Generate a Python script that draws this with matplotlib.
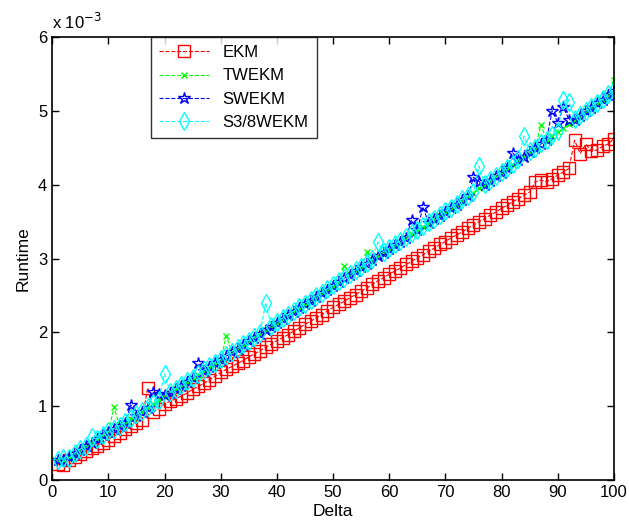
import matplotlib
matplotlib.use("Agg")
import matplotlib.pyplot as plt
from matplotlib.ticker import MultipleLocator

plt.rcParams['font.family'] = ['Liberation Sans', 'DejaVu Sans']

delta = list(range(1, 101))

ekm = [0.22,0.21,0.27,0.31,0.35,0.39,0.43,0.47,0.51,0.55,
       0.60,0.64,0.69,0.73,0.78,0.82,1.25,0.92,0.97,1.03,
       1.07,1.10,1.14,1.18,1.23,1.27,1.31,1.36,1.41,1.46,
       1.50,1.54,1.58,1.62,1.67,1.71,1.75,1.80,1.84,1.89,
       1.93,1.97,2.02,2.06,2.11,2.15,2.20,2.24,2.29,2.34,
       2.38,2.42,2.47,2.51,2.56,2.60,2.65,2.70,2.74,2.79,
       2.83,2.87,2.92,2.96,3.01,3.05,3.10,3.14,3.19,3.23,
       3.28,3.32,3.36,3.41,3.45,3.50,3.54,3.59,3.63,3.68,
       3.72,3.77,3.81,3.86,3.90,4.04,4.06,4.04,4.08,4.13,
       4.17,4.22,4.60,4.42,4.55,4.45,4.47,4.52,4.55,4.62]

twekm = [0.26,0.28,0.31,0.36,0.41,0.45,0.51,0.56,0.60,0.65,
         0.99,0.73,0.78,0.83,0.88,0.93,0.98,1.03,1.08,1.13,
         1.18,1.23,1.28,1.33,1.38,1.43,1.48,1.53,1.58,1.63,
         1.95,1.73,1.78,1.83,1.88,1.93,1.98,2.03,2.08,2.13,
         2.18,2.23,2.28,2.33,2.38,2.43,2.48,2.53,2.58,2.63,
         2.68,2.90,2.78,2.83,2.88,3.09,2.98,3.03,3.08,3.13,
         3.18,3.23,3.28,3.33,3.38,3.43,3.48,3.53,3.58,3.63,
         3.68,3.73,3.79,3.84,3.89,3.95,4.00,4.05,4.11,4.16,
         4.22,4.27,4.33,4.38,4.44,4.49,4.81,4.60,4.66,4.71,
         4.77,4.82,4.88,4.93,4.99,5.04,5.10,5.15,5.21,5.42]

swekm = [0.27,0.27,0.32,0.36,0.41,0.46,0.50,0.56,0.61,0.65,
         0.69,0.74,0.78,1.02,0.87,0.93,0.98,1.19,1.17,1.16,
         1.18,1.23,1.28,1.33,1.38,1.58,1.48,1.53,1.58,1.63,
         1.68,1.73,1.78,1.83,1.88,1.93,1.98,2.03,2.08,2.13,
         2.18,2.23,2.28,2.33,2.38,2.43,2.48,2.53,2.58,2.63,
         2.68,2.73,2.78,2.83,2.88,2.93,2.98,3.03,3.08,3.13,
         3.18,3.23,3.28,3.52,3.38,3.70,3.48,3.53,3.58,3.63,
         3.68,3.73,3.79,3.84,4.10,4.04,4.00,4.05,4.11,4.16,
         4.22,4.43,4.33,4.38,4.44,4.49,4.55,4.60,5.00,4.84,
         5.05,4.88,4.88,4.93,4.99,5.04,5.10,5.15,5.21,5.27]

s38wekm = [0.28,0.30,0.30,0.37,0.42,0.47,0.58,0.56,0.61,0.66,
           0.70,0.74,0.79,0.84,0.89,0.94,0.99,1.04,1.09,1.44,
           1.19,1.24,1.29,1.34,1.39,1.44,1.49,1.54,1.59,1.64,
           1.69,1.74,1.79,1.84,1.89,1.94,1.99,2.40,2.09,2.14,
           2.19,2.24,2.29,2.34,2.39,2.44,2.49,2.54,2.59,2.64,
           2.69,2.74,2.79,2.84,2.89,2.94,2.99,3.22,3.09,3.14,
           3.19,3.24,3.29,3.34,3.39,3.44,3.49,3.54,3.59,3.64,
           3.69,3.74,3.80,3.85,3.90,4.25,4.01,4.06,4.12,4.17,
           4.23,4.28,4.34,4.66,4.45,4.50,4.56,4.61,4.67,4.72,
           5.15,5.12,4.89,4.94,5.00,5.05,5.11,5.16,5.22,5.28]

labels = ['EKM', 'TWEKM', 'SWEKM', 'S3/8WEKM']

fig = plt.figure(figsize=(6.29, 5.26), dpi=100)
ax = fig.add_axes([0.083, 0.087, 0.893, 0.843])

ax.plot(delta, ekm, linestyle='--', color='r', marker='s', markersize=9,
        markerfacecolor='none', markeredgewidth=1.0, linewidth=0.8, label=labels[0])
ax.plot(delta, twekm, linestyle='--', color=(0, 1, 0), marker='x', markersize=5,
        markeredgewidth=1.0, linewidth=0.8, label=labels[1])
ax.plot(delta, swekm, linestyle='--', color='b', marker='*', markersize=9,
        markerfacecolor='none', markeredgewidth=1.0, linewidth=0.8, label=labels[2])
ax.plot(delta, s38wekm, linestyle='--', color=(0, 1, 1), marker='d', markersize=9,
        markerfacecolor='none', markeredgewidth=1.0, linewidth=0.8, label=labels[3])

ax.set_xlim(0, 100)
ax.set_ylim(0, 6)
ax.xaxis.set_major_locator(MultipleLocator(10))
ax.yaxis.set_major_locator(MultipleLocator(1))
ax.tick_params(direction='in', top=True, right=True, labelsize=12, length=5, width=1)
for s in ax.spines.values():
    s.set_linewidth(1.2)

ax.set_xlabel('Delta', fontsize=12.5, labelpad=3)
ax.set_ylabel('Runtime', fontsize=12.5, labelpad=5)
ax.text(0.0, 1.01, 'x 10$^{-3}$', transform=ax.transAxes, fontsize=12,
        ha='left', va='bottom')

leg = ax.legend(loc='upper left', bbox_to_anchor=(0.176, 1.0), fontsize=12,
                frameon=True, fancybox=False, edgecolor='black', borderaxespad=0,
                handlelength=3.0, borderpad=0.5, labelspacing=0.5)
leg.get_frame().set_linewidth(1.0)

fig.savefig('out.png', dpi=100)
